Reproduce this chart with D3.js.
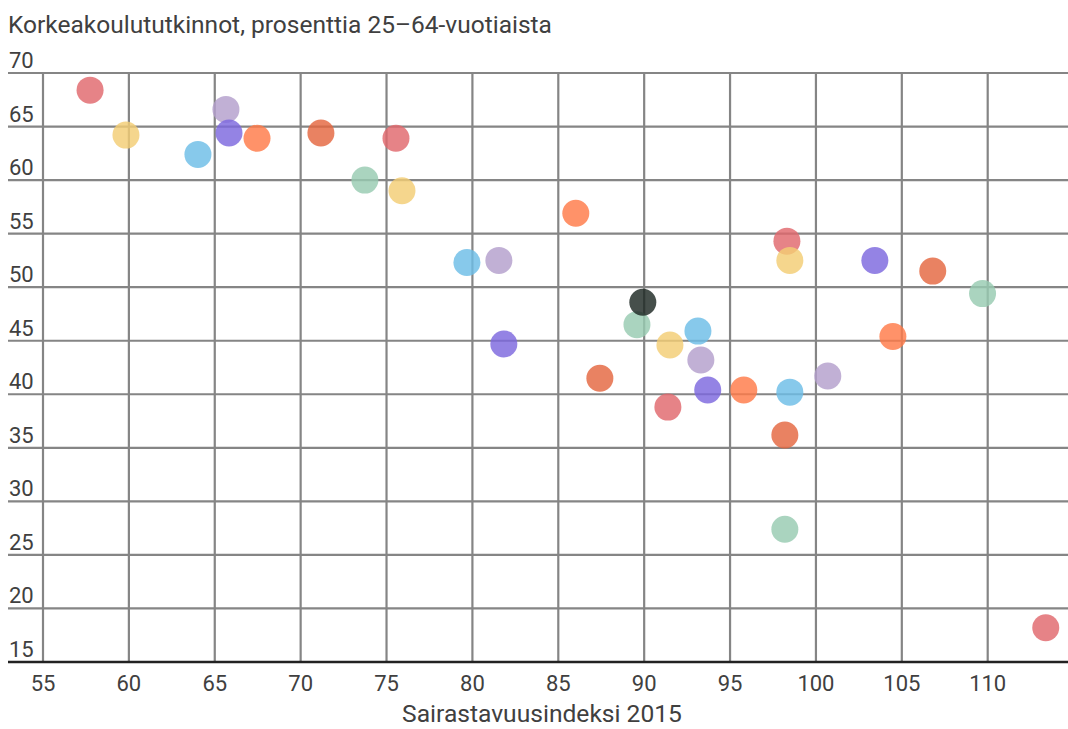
<!DOCTYPE html>
<html>
<head>
<meta charset="utf-8">
<script src="https://cdn.jsdelivr.net/npm/d3@7"></script>
<style>
  html, body { margin: 0; padding: 0; background: #fff; }
  svg { display: block; font-family: Roboto, "Noto Sans", sans-serif; }
</style>
</head>
<body>
<svg id="chart" width="1068" height="729"></svg>
<script>
// ---- data ----
const sickIndex   = [57.74, 59.83, 64.02, 65.65, 65.83, 67.46, 71.18, 75.55, 73.74, 75.90,
                     86.02, 79.68, 81.54, 81.83, 98.31, 98.48, 103.43, 106.80, 109.70, 89.58,
                     93.13, 91.50, 93.30, 104.48, 87.42, 91.38, 93.70, 95.80, 98.48, 100.69,
                     98.19, 98.19, 113.38, 89.92];
const degreeShare = [68.4, 64.2, 62.4, 66.6, 64.4, 63.9, 64.4, 63.9, 60.0, 59.0,
                     56.9, 52.3, 52.5, 44.7, 54.3, 52.5, 52.5, 51.5, 49.4, 46.5,
                     45.9, 44.6, 43.2, 45.4, 41.5, 38.8, 40.4, 40.4, 40.2, 41.7,
                     36.2, 27.4, 18.2, 48.6];
const colorGroup  = [0, 1, 2, 3, 4, 5, 6, 0, 7, 1,
                     5, 2, 3, 4, 0, 1, 4, 6, 7, 7,
                     2, 1, 3, 5, 6, 0, 4, 5, 2, 3,
                     6, 7, 0, 8];
const palette     = ["#e0686c", "#f3cd74", "#6cbde6", "#b39fcc", "#7c68de",
                     "#ff7a48", "#e4673f", "#97cbb1", "#1d2823"];
const xTicks = [55, 60, 65, 70, 75, 80, 85, 90, 95, 100, 105, 110];
const yTicks = [15, 20, 25, 30, 35, 40, 45, 50, 55, 60, 65, 70];
const yTitle = "Korkeakoulututkinnot, prosenttia 25\u201364-vuotiaista";
const xTitle = "Sairastavuusindeksi 2015";

// ---- layout ----
const W = 1068, H = 729;
const svg = d3.select("#chart");
const x = d3.scaleLinear().domain([55, 110]).range([43, 987.7]);
const y = d3.scaleLinear().domain([15, 70]).range([662, 73]);
const order = d3.range(sickIndex.length).sort((a, b) => colorGroup[a] - colorGroup[b]);

// grid
const grid = svg.append("g");
grid.selectAll("line.h").data(yTicks.filter(t => t > 15)).join("line")
  .attr("x1", 8).attr("x2", W)
  .attr("y1", d => y(d)).attr("y2", d => y(d))
  .attr("stroke", "#858585").attr("stroke-width", 2.2);
grid.selectAll("line.v").data(xTicks).join("line")
  .attr("x1", d => x(d)).attr("x2", d => x(d))
  .attr("y1", y(70)).attr("y2", y(15))
  .attr("stroke", "#858585").attr("stroke-width", 2.2);

// points
svg.append("g").selectAll("circle").data(order).join("circle")
  .attr("cx", i => x(sickIndex[i]))
  .attr("cy", i => y(degreeShare[i]))
  .attr("r", 13.5)
  .attr("fill", i => palette[colorGroup[i]])
  .attr("fill-opacity", 0.82);

// baseline
svg.append("line").attr("x1", 8).attr("x2", W)
  .attr("y1", y(15)).attr("y2", y(15))
  .attr("stroke", "#222").attr("stroke-width", 2.5);

// y tick labels
svg.append("g").selectAll("text").data(yTicks).join("text")
  .attr("x", 9).attr("y", d => y(d) - 5)
  .attr("fill", "#404040").attr("font-size", 22)
  .text(d => d);

// x tick labels
svg.append("g").selectAll("text").data(xTicks).join("text")
  .attr("x", d => x(d)).attr("y", 691)
  .attr("text-anchor", "middle")
  .attr("fill", "#404040").attr("font-size", 22)
  .text(d => d);

// titles
svg.append("text").attr("x", 8).attr("y", 33)
  .attr("fill", "#404040").attr("font-size", 24.5).text(yTitle);
svg.append("text").attr("x", 542).attr("y", 722)
  .attr("text-anchor", "middle")
  .attr("fill", "#404040").attr("font-size", 24.6).text(xTitle);
</script>
</body>
</html>
